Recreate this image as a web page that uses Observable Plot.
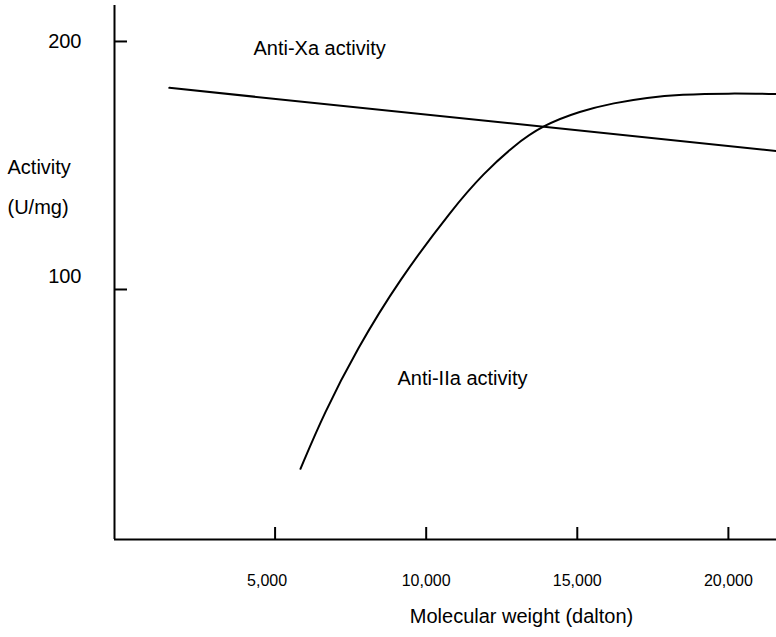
<!DOCTYPE html>
<html>
<head>
<meta charset="utf-8">
<script src="https://cdn.jsdelivr.net/npm/d3@7"></script>
<script src="https://cdn.jsdelivr.net/npm/@observablehq/plot@0.6"></script>
<style>
  html, body { margin: 0; padding: 0; background: #fff; }
  #chart svg { display: block; }
</style>
</head>
<body>
<div id="chart"></div>
<script>
// Anti-Xa activity (straight line)
const xaWeight = [1500, 21600];
const xaActivity = [181.3, 155.8];

// Anti-IIa activity (curve)
const iiaWeight = [5840, 6610, 7720, 9090, 10910, 11900, 12900, 13840, 15110, 16210, 17310, 18420, 20000, 21600];
const iiaActivity = [27.7, 49.9, 76.2, 103.6, 133.2, 146.8, 158.0, 166.1, 172.0, 175.2, 177.4, 178.6, 179.1, 178.8];

// Axis ticks
const xTicks = [5000, 10000, 15000, 20000];
const yTicks = [100, 200];

// Annotations
const labelNames = ["Anti-Xa activity", "Anti-IIa activity"];
const labelWeight = [4285, 9050];
const labelActivity = [197.2, 64.1];

const xDomain = [-314, 21592];
const yDomain = [-0.8, 214.5];

const xa = xaWeight.map((w, i) => ({w, a: xaActivity[i]}));
const iia = iiaWeight.map((w, i) => ({w, a: iiaActivity[i]}));
const labels = labelNames.map((t, i) => ({t, w: labelWeight[i], a: labelActivity[i]}));

const font = "Liberation Sans, Arial, sans-serif";
const fmt = d3.format(",");

const chart = Plot.plot({
  width: 776,
  height: 637,
  marginLeft: 114,
  marginRight: 0,
  marginTop: 5,
  marginBottom: 98,
  style: {fontFamily: font, color: "#000", background: "#fff"},
  x: {domain: xDomain, label: null},
  y: {domain: yDomain, label: null},
  marks: [
    Plot.ruleX([xDomain[0]], {stroke: "#000", strokeWidth: 2}),
    Plot.ruleY([yDomain[0]], {stroke: "#000", strokeWidth: 2}),
    Plot.axisY(yTicks, {tickSize: 13, dx: 13, text: null, strokeWidth: 2, label: null}),
    Plot.axisY([200], {tickSize: 0, tickPadding: 33, fontSize: 20, label: null}),
    Plot.axisY([100], {tickSize: 0, tickPadding: 33, fontSize: 20, dy: -13, label: null}),
    Plot.axisX(xTicks, {tickSize: 12, dy: -12, text: null, strokeWidth: 2, label: null}),
    Plot.axisX(xTicks.slice(0, 1), {tickSize: 0, tickPadding: 35, fontSize: 16, tickFormat: fmt, dx: -8, label: null}),
    Plot.axisX(xTicks.slice(1), {tickSize: 0, tickPadding: 35, fontSize: 16, tickFormat: fmt, label: null}),
    Plot.line(xa, {x: "w", y: "a", stroke: "#000", strokeWidth: 2, clip: true}),
    Plot.line(iia, {x: "w", y: "a", stroke: "#000", strokeWidth: 2, curve: "basis", clip: true}),
    Plot.text(labels, {x: "w", y: "a", text: "t", textAnchor: "start", fontSize: 20}),
    Plot.text(["Activity\n(U/mg)"], {frameAnchor: "left", textAnchor: "start", dx: -107, dy: -91, lineHeight: 2, fontSize: 20}),
    Plot.text(["Molecular weight (dalton)"], {frameAnchor: "bottom", dx: 76, dy: 83, fontSize: 20})
  ]
});
document.getElementById("chart").append(chart);
</script>
</body>
</html>
